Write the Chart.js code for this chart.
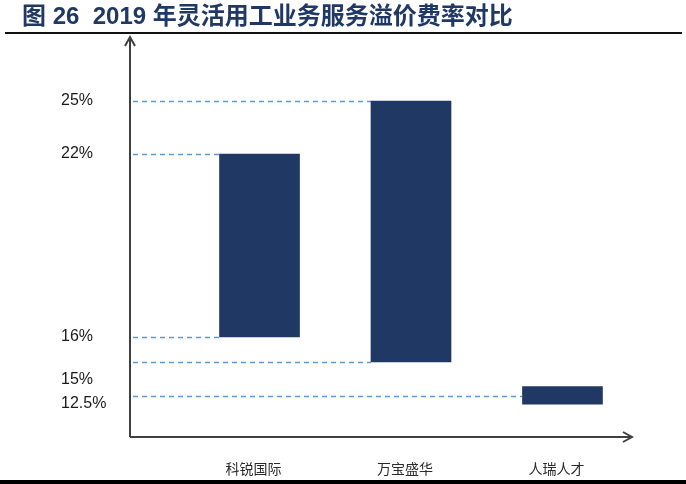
<!DOCTYPE html>
<html>
<head>
<meta charset="utf-8">
<script src="https://cdn.jsdelivr.net/npm/chart.js@4"></script>
<style>
  body { margin: 0; background: #fff; }
  #wrap { position: relative; width: 686px; height: 484px; overflow: hidden; }
  #title { position: absolute; left: 22px; top: 1px; font: bold 24px "Liberation Sans", "Noto Sans CJK SC", sans-serif; line-height: 30px; color: #1f3864; white-space: pre; }
  #rule { position: absolute; left: 5px; top: 32px; width: 677px; height: 2px; background: #111; }
  #foot { position: absolute; left: 0; top: 480px; width: 686px; height: 4px; background: #000; }
  canvas { position: absolute; left: 0; top: 0; }
</style>
</head>
<body>
<div id="wrap">
  <canvas id="chart" width="686" height="484"></canvas>
  <div id="title">图 26  2019 年灵活用工业务服务溢价费率对比</div>
  <div id="rule"></div>
  <div id="foot"></div>
</div>
<script>
// data
const categories = ['科锐国际', '万宝盛华', '人瑞人才'];
const lowValues = [16, 15, 12];
const highValues = [22, 25, 13.2];
const tickValues = [25, 22, 16, 15, 12.5];
const guideTargets = [1, 0, 0, 1, 2];   // which bar each dashed line runs to

// layout: the axis in the picture is not to scale, so the y axis is stretched piecewise
const yKnots = [[10, 0], [12.5, 0.1025], [15, 0.1875], [16, 0.25], [22, 0.7075], [25, 0.84], [28.6, 1]];
const tickLabelShift = [0, 0, 0, 18, 8];

class StepScale extends Chart.LinearScale {
  static id = 'step';
  getPixelForValue(value) {
    let k = 1;
    while (k < yKnots.length - 1 && value > yKnots[k][0]) k++;
    const [v0, f0] = yKnots[k - 1], [v1, f1] = yKnots[k];
    const f = f0 + (value - v0) / (v1 - v0) * (f1 - f0);
    return this.bottom - f * (this.bottom - this.top);
  }
  getValueForPixel(pixel) {
    const f = (this.bottom - pixel) / (this.bottom - this.top);
    let k = 1;
    while (k < yKnots.length - 1 && f > yKnots[k][1]) k++;
    const [v0, f0] = yKnots[k - 1], [v1, f1] = yKnots[k];
    return v0 + (f - f0) / (f1 - f0) * (v1 - v0);
  }
}
Chart.register(StepScale);

const extras = {
  id: 'extras',
  beforeDatasetsDraw(chart) {
    const {ctx, scales: {x, y}} = chart;
    const bars = chart.getDatasetMeta(0).data;
    ctx.save();
    ctx.strokeStyle = '#5b9bd5';
    ctx.lineWidth = 1.5;
    ctx.setLineDash([5, 4]);
    tickValues.forEach((v, i) => {
      const py = Math.round(y.getPixelForValue(v)) + 0.5;
      const bar = bars[guideTargets[i]];
      ctx.beginPath();
      ctx.moveTo(x.left + 3, py);
      ctx.lineTo(bar.x - bar.width / 2, py);
      ctx.stroke();
    });
    ctx.restore();
  },
  afterDraw(chart) {
    const {ctx, chartArea: a, scales: {x, y}} = chart;
    ctx.save();
    // axes with open arrow heads
    ctx.strokeStyle = '#404040';
    ctx.lineWidth = 2;
    ctx.beginPath();
    ctx.moveTo(a.left, a.bottom);
    ctx.lineTo(a.left, a.top);
    ctx.moveTo(a.left - 5, a.top + 9);
    ctx.lineTo(a.left, a.top);
    ctx.lineTo(a.left + 5, a.top + 9);
    ctx.moveTo(a.left, a.bottom);
    ctx.lineTo(a.right, a.bottom);
    ctx.moveTo(a.right - 9, a.bottom - 5);
    ctx.lineTo(a.right, a.bottom);
    ctx.lineTo(a.right - 9, a.bottom + 5);
    ctx.stroke();

    // y labels
    ctx.fillStyle = '#1a1a1a';
    ctx.font = '16px "Liberation Sans"';
    ctx.textAlign = 'left';
    ctx.textBaseline = 'middle';
    tickValues.forEach((v, i) => {
      ctx.fillText(v + '%', 61, y.getPixelForValue(v) + tickLabelShift[i]);
    });

    // category labels
    ctx.fillStyle = '#2a2a2a';
    ctx.font = '14px "Noto Sans CJK SC"';
    ctx.textAlign = 'center';
    categories.forEach((c, i) => {
      ctx.fillText(c, x.getPixelForValue(i) - 6, a.bottom + 32);
    });
    ctx.restore();
  }
};

new Chart(document.getElementById('chart'), {
  type: 'bar',
  data: {
    datasets: [{
      data: lowValues.map((lo, i) => ({x: i, y: [lo, highValues[i]]})),
      backgroundColor: '#1f3864',
      borderWidth: 0,
      barThickness: 80,
    }]
  },
  options: {
    responsive: false,
    animation: false,
    layout: { padding: {left: 130, right: 54, top: 37, bottom: 47} },
    plugins: { legend: {display: false}, tooltip: {enabled: false} },
    scales: {
      x: { type: 'linear', min: -0.855, max: 2.459, offset: false, display: false },
      y: { type: 'step', min: 10, max: 28.6, display: false },
    }
  },
  plugins: [extras]
});
</script>
</body>
</html>
